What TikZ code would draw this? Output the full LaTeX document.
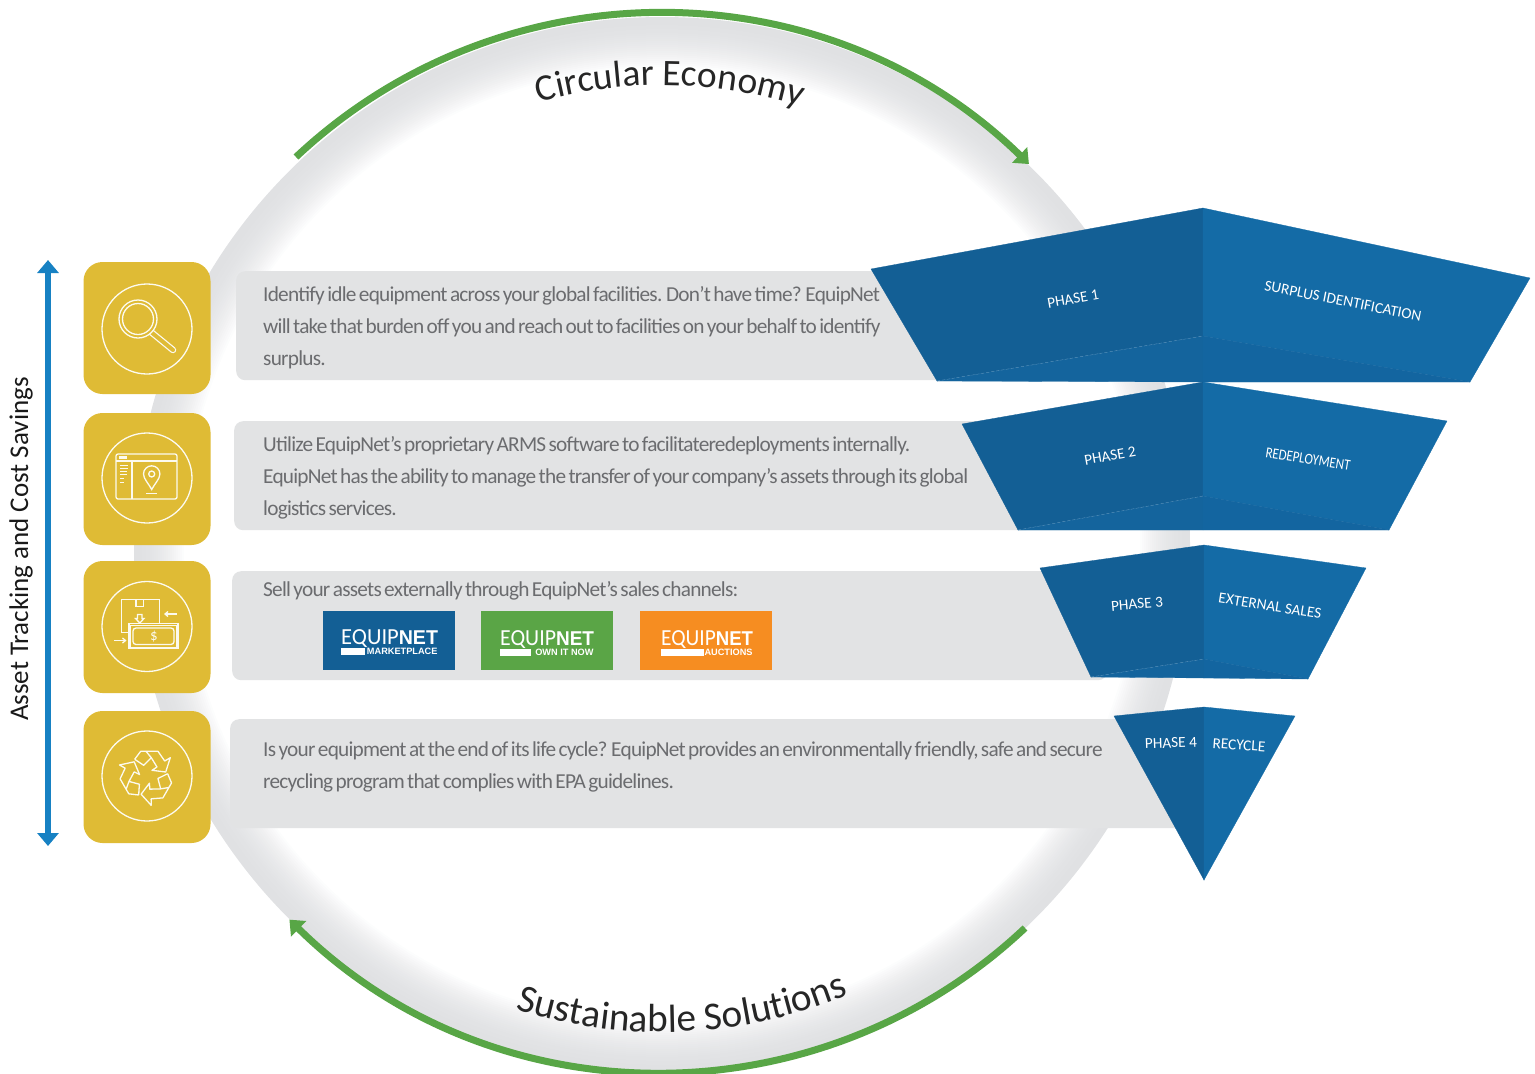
\documentclass[tikz,border=0pt]{standalone}
\usepackage{fontspec}
\usepackage{tikz}
\usetikzlibrary{arrows.meta,decorations.text}
\setmainfont{Carlito}
\newfontfamily\logofont{Liberation Sans}
\newfontfamily\barfont[LetterSpace=-3.6,WordSpace=0.6]{Carlito}

\definecolor{ringgray}{HTML}{E0E1E3}
\definecolor{bargray}{HTML}{E2E3E4}
\definecolor{bartext}{HTML}{6B6C6F}
\definecolor{gold}{HTML}{DFBB35}
\definecolor{leafgreen}{HTML}{58A646}
\definecolor{arrowblue}{HTML}{1781C3}
\definecolor{faceleft}{HTML}{135F95}
\definecolor{faceright}{HTML}{146BA6}
\definecolor{floorleft}{HTML}{14649D}
\definecolor{floorright}{HTML}{1365A0}
\definecolor{logoblue}{HTML}{135F95}
\definecolor{logogreen}{HTML}{5AA546}
\definecolor{logoorange}{HTML}{F68D21}

\begin{document}
\begin{tikzpicture}[x=1pt,y=-1pt,>={Triangle[length=13pt,width=21pt]}]
    \tikzstyle{bar}=[fill=bargray,rounded corners=9pt,inner sep=0pt,anchor=north west,minimum height=109pt]
    \tikzstyle{body}=[anchor=north west,inner sep=0pt,align=left,text=bartext,font=\barfont\fontsize{21.3}{32}\selectfont]
    \tikzstyle{icon}=[fill=gold,rounded corners=19pt,minimum width=127pt,minimum height=132pt,inner sep=0pt]
    \tikzstyle{glyph}=[draw=white!92!gold,line width=1.3pt]
    \tikzstyle{left face}=[fill=faceleft,draw=faceleft,line width=.3pt]
    \tikzstyle{right face}=[fill=faceright,draw=faceright,line width=.3pt]
    \tikzstyle{left floor}=[fill=floorleft,draw=floorleft,line width=.3pt]
    \tikzstyle{right floor}=[fill=floorright,draw=floorright,line width=.3pt]
    \tikzstyle{seam}=[white!35!floorleft,densely dashed,line width=.3pt]
    \tikzstyle{phase}=[text=white,inner sep=0pt,font=\fontsize{15.3}{16}\selectfont]
    \tikzstyle{logo}=[inner sep=0pt,anchor=north west,minimum height=59pt,minimum width=132pt]
    \tikzstyle{logoname}=[text=white,inner sep=0pt,anchor=base west]
    \tikzstyle{logosub}=[text=white,inner sep=0pt,anchor=base east,font=\logofont\bfseries\fontsize{9.2}{10}\selectfont]

    \useasboundingbox (0,0) rectangle (1535,1074);

    % ring
    \foreach \k in {0,...,25} {
        \pgfmathsetmacro{\rad}{528-2*\k}
        \pgfmathsetmacro{\pct}{100*(1-(\k/25)^2)}
        \fill[ringgray!\pct!white] (662,545) circle (\rad pt);
    }

    % green arcs and the titles on them
    \coordinate (topA) at (296,157);
    \coordinate (botA) at (1025,928);
    \draw[->,leafgreen,line width=7pt] (topA) arc[start angle=133.2,end angle=45.7,radius=530pt];
    \draw[->,leafgreen,line width=7pt] (botA) arc[start angle=-46.7,end angle=-134.6,radius=530pt];
    \path[postaction={decorate},decoration={text along path,text align=center,
        text={|\fontsize{37.5}{37.5}\selectfont\color{black!85}|Circular Economy}}]
        (439,143) arc[start angle=119,end angle=59,radius=460pt];
    \path[postaction={decorate},decoration={text along path,text align=center,
        text={|\fontsize{39.3}{39.3}\selectfont\color{black!85}|Sustainable Solutions}}]
        (437,977) arc[start angle=242.5,end angle=302.5,radius=487pt];

    % blue arrow on the left
    \coordinate (arrowT) at (48,260);
    \coordinate (arrowB) at (48,846);
    \draw[<->,arrowblue,line width=5.5pt] (arrowT) -- (arrowB);
    \node[rotate=90,inner sep=0pt,text=black!90,font=\fontsize{27}{27}\selectfont] (track) at (21,549) {Asset Tracking and Cost Savings};

    % grey bars
    \node[bar,minimum width=720pt] (bar1) at (236,271) {};
    \node[bar,minimum width=800pt] (bar2) at (234,421) {};
    \node[bar,minimum width=875pt] (bar3) at (232,571) {};
    \node[bar,minimum width=960pt] (bar4) at (230,719) {};

    \node[body] (text1) at (263,286) {Identify idle equipment across your global facilities. Don’t have time? EquipNet\\
        will take that burden off you and reach out to facilities on your behalf to identify\\ surplus.};
    \node[body] (text2) at (263,436) {Utilize EquipNet’s proprietary ARMS software to facilitateredeployments internally.\\
        EquipNet has the ability to manage the transfer of your company’s assets through its global\\ logistics services.};
    \node[body] (text3) at (263,581) {Sell your assets externally through EquipNet’s sales channels:};
    \node[body] (text4) at (263,742) {Is your equipment at the end of its life cycle? EquipNet provides an environmentally friendly, safe and secure\\
        recycling program that complies with EPA guidelines.};

    % logos
    \node[logo,fill=logoblue]   (logo1) at (323,611) {};
    \node[logo,fill=logogreen]  (logo2) at (481,611) {};
    \node[logo,fill=logoorange] (logo3) at (640,611) {};
    \foreach \name/\x/\y/\barw/\fit/\sub in {1/341/644/24/.98/MARKETPLACE,2/500/645/31/.95/OWN IT NOW,3/661/645/43/.93/AUCTIONS} {
        \node[logoname] (equip\name) at (\x,\y) {\scalebox{\fit}[1]{\fontsize{23}{23}\selectfont EQUIP\logofont\bfseries\fontsize{20}{20}\selectfont NET}};
        \fill[white] (\x,\y+3.5) rectangle ++(\barw,7);
        \node[logosub] (sub\name) at ([xshift=-.5pt]equip\name.base east |- 0,\y+10.5) {\sub};
    }

    % funnels
    \path[left face]   (871,269) -- (1203,208) -- (1203,336) -- (937,381) -- cycle;
    \path[right face]  (1203,208) -- (1530,278) -- (1470,382) -- (1203,336) -- cycle;
    \path[left floor]  (937,381) -- (1203,336) -- (1203,382) -- cycle;
    \path[right floor] (1203,336) -- (1470,382) -- (1203,382) -- cycle;
    \draw[seam] (937,381) -- (1203,336);

    \path[left face]   (962,424) -- (1203,382) -- (1203,496) -- (1018,530) -- cycle;
    \path[right face]  (1203,382) -- (1447,421) -- (1389,530) -- (1203,496) -- cycle;
    \path[left floor]  (1018,530) -- (1203,496) -- (1203,530) -- cycle;
    \path[right floor] (1203,496) -- (1389,530) -- (1203,530) -- cycle;
    \draw[seam] (1018,530) -- (1203,496);

    \path[left face]   (1040,568) -- (1204,545) -- (1204,659) -- (1091,677) -- cycle;
    \path[right face]  (1204,545) -- (1366,568) -- (1308,679) -- (1204,659) -- cycle;
    \path[left floor]  (1091,677) -- (1204,659) -- (1204,678) -- cycle;
    \path[right floor] (1204,659) -- (1308,679) -- (1204,678) -- cycle;
    \draw[seam] (1091,677) -- (1204,659);

    \path[left face]   (1114,716) -- (1204,707) -- (1204,880) -- cycle;
    \path[right face]  (1204,707) -- (1295,716) -- (1204,880) -- cycle;

    \node[phase,rotate=10]  (ph1)  at (1073,299) {PHASE 1};
    \node[phase,rotate=-11] (nm1)  at (1343,301) {SURPLUS IDENTIFICATION};
    \node[phase,rotate=10]  (ph2)  at (1110,456) {PHASE 2};
    \node[phase,rotate=-9]  (nm2)  at (1308,459) {\scalebox{.84}[1]{REDEPLOYMENT}};
    \node[phase,rotate=5]   (ph3)  at (1137,604) {PHASE 3};
    \node[phase,rotate=-9]  (nm3)  at (1270,606) {EXTERNAL SALES};
    \node[phase,rotate=2]   (ph4)  at (1171,743) {PHASE 4};
    \node[phase,rotate=-4]  (nm4)  at (1239,745) {RECYCLE};

    % icons
    \node[icon] (icon1) at (147,328) {};
    \node[icon] (icon2) at (147,479) {};
    \node[icon] (icon3) at (147,627) {};
    \node[icon] (icon4) at (147,777) {};
    \foreach \i/\y in {1/329,2/478,3/626.5,4/776}
        \node[glyph,circle,minimum size=90pt,inner sep=0pt] (disc\i) at (147,\y) {};

    % magnifier
    \begin{scope}[shift={(147,329)}]
        \draw[white!92!gold,line width=6.5pt,line cap=round] (4,3) -- (26,21);
        \draw[gold,line width=4pt,line cap=round] (4,3) -- (26,21);
        \filldraw[glyph,fill=gold] (-9,-10) circle (19pt);
        \draw[glyph] (-9,-10) circle (15.5pt);
    \end{scope}

    % window with a pin
    \begin{scope}[shift={(147,478)}]
        \draw[glyph,rounded corners=2pt] (-31,-24) rectangle (30,21);
        \draw[glyph] (-31,-17) -- (30,-17);
        \draw[glyph] (-15,-17) -- (-15,21);
        \fill[white!92!gold] (-28,-22.5) rectangle (-20,-19);
        \foreach \y/\len in {-13/8,-10/8,-7/7,-4/7,0/4,4/4}
            \draw[white!92!gold,line width=.9pt] (-27,\y) -- ++(\len,0);
        \draw[glyph] (4.7,11.5) .. controls (2,6) and (-3.5,1) .. (-3.5,-4)
            arc[start angle=180,end angle=0,radius=8.2pt]
            .. controls (12.9,1) and (7.4,6) .. cycle;
        \draw[glyph] (4.7,-4) circle (3pt);
        \draw[white!92!gold,line width=1.8pt] (-1,15.5) -- (10,15.5);
    \end{scope}

    % box and money
    \begin{scope}[shift={(147,626.5)}]
        \draw[glyph] (-18,6) -- (-25.5,6) -- (-25.5,-27) -- (12.5,-27) -- (12.5,-3);
        \draw[glyph] (-11,-27) -- (-11,-20) -- (-3.5,-20) -- (-3.5,-27);
        \draw[glyph] (-9.5,-12) -- (-5,-12) -- (-5,-8) -- (-3,-8) -- (-7.2,-3.5) -- (-11.5,-8) -- (-9.5,-8) -- cycle;
        \draw[glyph] (-18,-3) rectangle (31,22);
        \draw[glyph,line width=.7pt] (-16.5,-1.5) rectangle (29.5,20.5);
        \draw[glyph,rounded corners=3pt] (-14,1.5) rectangle (27,18);
        \node[text=white!92!gold,inner sep=0pt,font=\fontsize{15}{15}\selectfont] (dollar) at (7,10) {\$};
        \draw[glyph,-{Straight Barb[length=3pt,width=5pt]}] (30,-12.5) -- (17,-12.5);
        \draw[glyph,-{Straight Barb[length=3pt,width=5pt]}] (-33,14) -- (-20.5,14);
    \end{scope}

    % recycling
    \begin{scope}[shift={(147,776)}]
        \foreach \r in {0,120,240}
            \draw[glyph,line join=round,rotate=\r] (-12.3,-16.7) -- (-6.3,-24.7) -- (11,-24.7) -- (17.7,-15)
                -- (23.3,-18.3) -- (18.7,-4) -- (5,-5.7) -- (10,-9) -- (4.3,-18.3) -- (-1,-24.7)
                (4.3,-18.3) -- (-3.3,-10.7) -- (-12.3,-16.7);
    \end{scope}
\end{tikzpicture}
\end{document}
